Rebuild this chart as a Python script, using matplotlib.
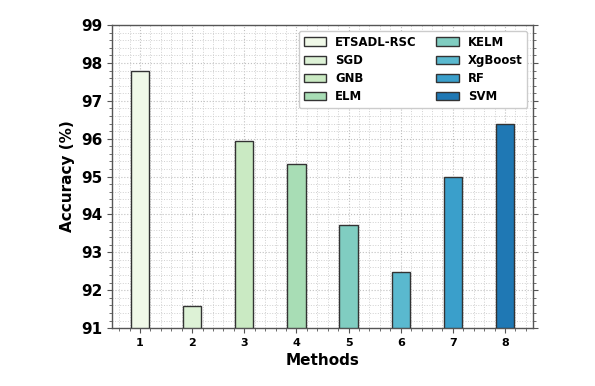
import numpy as np
import matplotlib.pyplot as plt
from matplotlib.ticker import AutoMinorLocator

# data
methods = ['ETSADL-RSC', 'SGD', 'GNB', 'ELM', 'KELM', 'XgBoost', 'RF', 'SVM']
positions = [1, 2, 3, 4, 5, 6, 7, 8]
accuracy = [97.78, 91.59, 95.95, 95.33, 93.72, 92.47, 94.99, 96.40]

colors = ['#f0f9e8', '#ddf2d6', '#caeac3', '#a8ddb5', '#80cdc1',
          '#5ab9cf', '#3a9fcb', '#1f78b4']

fig = plt.figure(figsize=(5.95, 3.86), dpi=100)
ax = fig.add_axes([0.188, 0.150, 0.708, 0.785])

for i in range(len(methods)):
    ax.bar(positions[i], accuracy[i] - 91, bottom=91, width=0.35,
           color=colors[i], edgecolor='#333333', linewidth=1.0,
           label=methods[i], zorder=3)

ax.set_ylim(91, 99)
ax.set_xlim(0.46, 8.54)
ax.set_xticks(positions)
ax.set_yticks(range(91, 100))
ax.xaxis.set_minor_locator(AutoMinorLocator(5))
ax.yaxis.set_minor_locator(AutoMinorLocator(5))
ax.tick_params(axis='both', which='both', direction='out', top=False, right=True,
               color='#555555')
ax.tick_params(axis='x', which='major', labelsize=8)
ax.tick_params(axis='y', which='major', labelsize=11)
for lbl in ax.get_xticklabels() + ax.get_yticklabels():
    lbl.set_fontweight('bold')

ax.grid(which='major', linestyle=':', color='#c0c0c0', linewidth=0.8, zorder=0)
ax.grid(which='minor', linestyle=':', color='#d0d0d0', linewidth=0.7, zorder=0)
for s in ax.spines.values():
    s.set_color('#555555')
    s.set_linewidth(1.0)

ax.set_xlabel('Methods', fontsize=11, fontweight='bold')
ax.set_ylabel('Accuracy (%)', fontsize=11, fontweight='bold')

leg = ax.legend(ncol=2, loc='upper right', bbox_to_anchor=(1.0, 1.0),
                prop={'weight': 'bold', 'size': 8.4},
                handlelength=1.9, handleheight=0.7, columnspacing=1.7, labelspacing=0.45,
                fancybox=True, framealpha=1)

plt.savefig('out.png', dpi=100)
